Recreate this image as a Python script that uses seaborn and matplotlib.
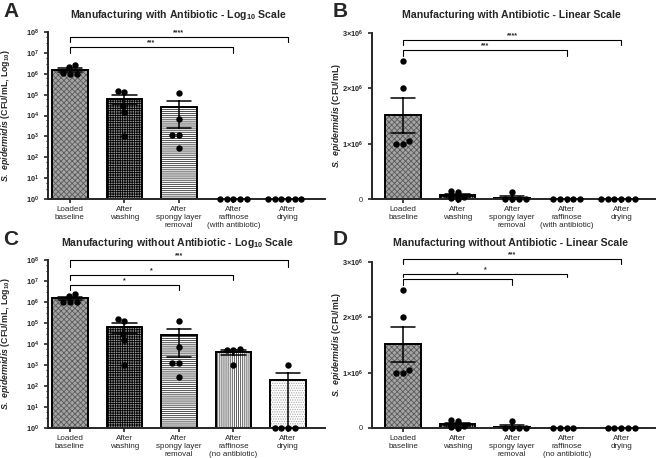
import numpy as np
import pandas as pd
import seaborn as sns
import matplotlib.pyplot as plt
from matplotlib.patches import Rectangle
from matplotlib.ticker import LogLocator, FixedLocator, NullFormatter
import matplotlib.transforms as mtransforms

sns.set_style("ticks")
plt.rcParams['font.family'] = ['Liberation Sans', 'DejaVu Sans']
plt.rcParams['mathtext.fontset'] = 'custom'
plt.rcParams['mathtext.rm'] = 'Liberation Sans:bold'
plt.rcParams['mathtext.it'] = 'Liberation Sans:bold:italic'
plt.rcParams['mathtext.bf'] = 'Liberation Sans:bold'
plt.rcParams['hatch.linewidth'] = 0.6

# data (CFU/mL)
labels_ab = ["Loaded\nbaseline", "After\nwashing", "After\nspongy layer\nremoval",
             "After\nraffinose\n(with antibiotic)", "After\ndrying"]
labels_noab = ["Loaded\nbaseline", "After\nwashing", "After\nspongy layer\nremoval",
               "After\nraffinose\n(no antibiotic)", "After\ndrying"]

loaded = [2.5e6, 2.0e6, 1.05e6, 1.0e6, 1.0e6]
washing = [1.5e5, 1.3e5, 3.0e4, 1.5e4, 1.0e3]
spongy = [1.2e5, 7.0e3, 1.2e3, 1.2e3, 2.7e2]
raffinose_ab = [0, 0, 0, 0, 0]
drying_ab = [0, 0, 0, 0, 0, 0]
raffinose_noab = [5.5e3, 5.0e3, 5.0e3, 1.0e3]
drying_noab = [1.0e3, 0, 0, 0, 0]

stars_ab = [(4, "****"), (3, "***")]
stars_noab = [(4, "***"), (3, "*"), (2, "*")]

# fill style per step: hatch, face, hatch colour
hatches = ['xxxxxx', '+++++++', '--------', '||||||||', '.......']
faces = ['#a4a4a4', '#9a9a9a', 'white', 'white', 'white']
hatch_cols = ['#5a5a5a', 'black', '#333333', '#444444', '#a8a8a8']


def make_df(labels, groups):
    rows = []
    for lab, vals in zip(labels, groups):
        for v in vals:
            rows.append((lab, v))
    return pd.DataFrame(rows, columns=['Step', 'CFU'])


def panel(ax, df, labels, log, title, stars, bracket_y, letter, fig_pos):
    sns.barplot(x='Step', y='CFU', data=df, order=labels, errorbar='se', capsize=0.45,
                width=0.65, color='white', edgecolor='black', linewidth=1.4,
                err_kws={'color': 'black', 'linewidth': 1.1}, ax=ax)
    bars = list(ax.patches)
    for p, h, f, hc in zip(bars, hatches, faces, hatch_cols):
        p.set_hatch(h)
        p.set_facecolor(f)
        p.set_edgecolor(hc)
        p.set_linewidth(0)
        ax.add_patch(Rectangle(p.get_xy(), p.get_width(), p.get_height(), fill=False,
                               edgecolor='black', linewidth=1.4, zorder=p.get_zorder() + 0.1))
    pts = df.copy()
    if log:
        pts['CFU'] = pts['CFU'].clip(lower=1)
    sns.swarmplot(x='Step', y='CFU', data=pts, order=labels, color='black', size=4.6,
                  clip_on=False, zorder=5, ax=ax)
    if log:
        ax.set_yscale('log')
        ax.set_ylim(1, 1e8)
        ax.yaxis.set_major_locator(FixedLocator([10.0 ** i for i in range(9)]))
        ax.set_yticklabels([f"$10^{{{i}}}$" for i in range(9)])
        ax.yaxis.set_minor_locator(LogLocator(base=10, subs=(0.3, 0.6), numticks=20))
        ax.yaxis.set_minor_formatter(NullFormatter())
        ax.set_ylabel(r"$S.\ epidermidis$ (CFU/mL, Log$_{10}$)", fontsize=6.3,
                      fontweight='bold')
        ax.set_xlim(-0.4, 4.68)
    else:
        ax.set_ylim(0, 3e6)
        ax.set_yticks([0, 1e6, 2e6, 3e6])
        ax.set_yticklabels(["0", r"$1{\times}10^6$", r"$2{\times}10^6$", r"$3{\times}10^6$"])
        ax.set_ylabel(r"$S.\ epidermidis$ (CFU/mL)", fontsize=6.3, fontweight='bold')
        ax.set_xlim(-0.57, 4.62)
    ax.set_xlabel("")
    ax.tick_params(axis='both', labelsize=5.3, width=1.2, length=3, direction='out')
    ax.tick_params(axis='x', labelsize=5.8, pad=2)
    ax.tick_params(axis='y', which='minor', length=1.5, width=0.8)
    sns.despine(ax=ax)
    for s in ['left', 'bottom']:
        ax.spines[s].set_linewidth(1.4)

    trans = mtransforms.blended_transform_factory(ax.transData, ax.transAxes)
    for (x2, txt), (ytop, ydrop) in zip(stars, bracket_y):
        ax.plot([0, 0, x2, x2], [ydrop, ytop, ytop, ydrop], color='black', lw=0.8,
                transform=trans, clip_on=False)
        ax.text(x2 / 2, ytop + 0.005, txt, transform=trans, ha='center', va='bottom',
                fontsize=5, fontweight='bold')

    fig = ax.figure
    fig.text(fig_pos[0], fig_pos[1], title, ha='center', va='center', fontsize=7.6,
             fontweight='bold')
    fig.text(fig_pos[2], fig_pos[3], letter, ha='left', va='top', fontsize=15,
             fontweight='bold')


fig = plt.figure(figsize=(6.58, 4.58), dpi=100)
W, H = 658, 458


def rect(l, r, t, b):
    return [l / W, 1 - b / H, (r - l) / W, (b - t) / H]


axA = fig.add_axes(rect(48, 325, 32, 199))
axB = fig.add_axes(rect(372, 655, 33, 199))
axC = fig.add_axes(rect(48, 325, 260, 428))
axD = fig.add_axes(rect(372, 655, 262, 428))

df_ab = make_df(labels_ab, [loaded, washing, spongy, raffinose_ab, drying_ab])
df_noab = make_df(labels_noab, [loaded, washing, spongy, raffinose_noab, drying_noab])

panel(axA, df_ab, labels_ab, True, r"Manufacturing with Antibiotic - Log$_{10}$ Scale",
      stars_ab, [(0.971, 0.939), (0.908, 0.875)], "A",
      (178 / W, 1 - 15 / H, 3 / W, 1 - 2 / H))
panel(axB, df_ab, labels_ab, False, "Manufacturing with Antibiotic - Linear Scale",
      stars_ab, [(0.96, 0.927), (0.897, 0.863)], "B",
      (511 / W, 1 - 15 / H, 333 / W, 1 - 2 / H))
panel(axC, df_noab, labels_noab, True, r"Manufacturing without Antibiotic - Log$_{10}$ Scale",
      stars_noab, [(1.0, 0.961), (0.913, 0.879), (0.849, 0.819)], "C",
      (177 / W, 1 - 243 / H, 3 / W, 1 - 230 / H))
panel(axD, df_noab, labels_noab, False, "Manufacturing without Antibiotic - Linear Scale",
      stars_noab, [(1.017, 0.987), (0.93, 0.907), (0.897, 0.863)], "D",
      (511 / W, 1 - 243 / H, 333 / W, 1 - 230 / H))

for ax, x in [(axA, 12), (axC, 12), (axB, 343), (axD, 343)]:
    pos = ax.get_position()
    ax.yaxis.set_label_coords(x / W, pos.y0 + pos.height / 2, transform=fig.transFigure)

fig.savefig('out.png', dpi=100)
